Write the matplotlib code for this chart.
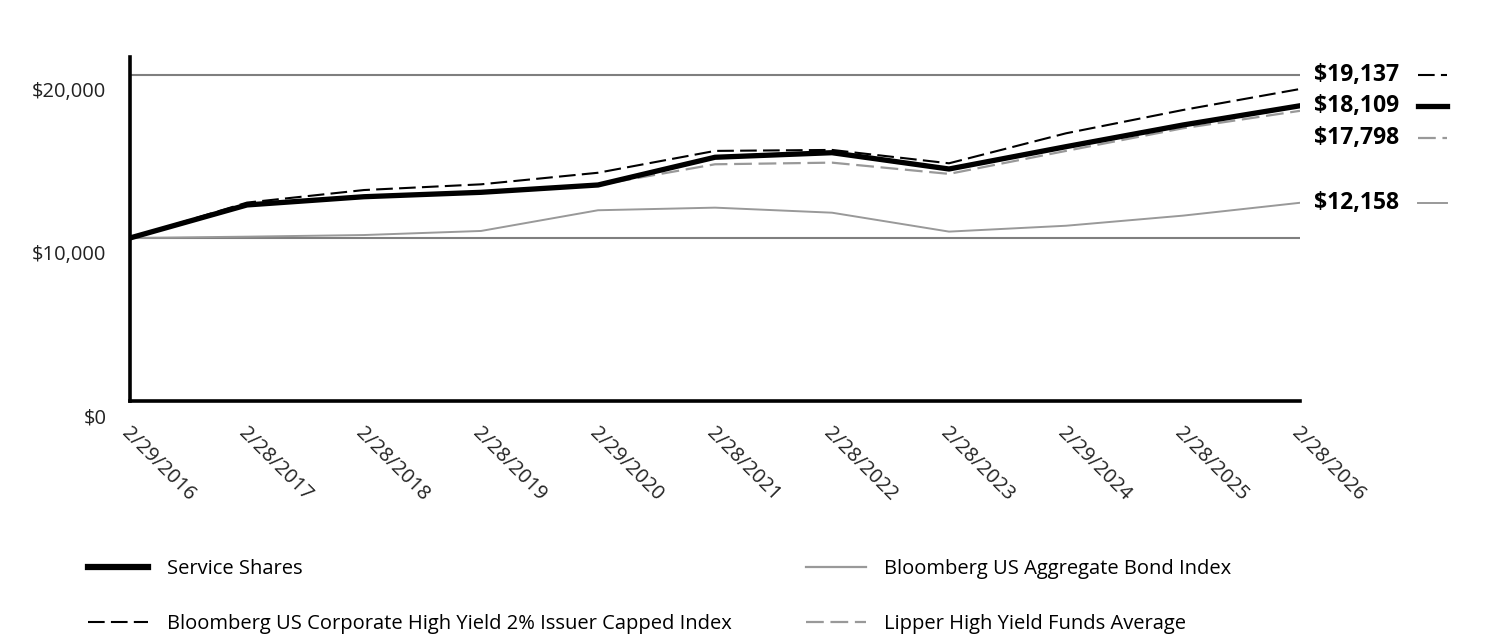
import matplotlib

matplotlib.use("Agg")
import matplotlib.pyplot as plt
from matplotlib.lines import Line2D
from matplotlib.transforms import ScaledTranslation

plt.rcParams["font.family"] = ["Open Sans", "DejaVu Sans"]

dates = [
    "2/29/2016", "2/28/2017", "2/28/2018", "2/28/2019", "2/29/2020", "2/28/2021",
    "2/28/2022", "2/28/2023", "2/29/2024", "2/28/2025", "2/28/2026",
]
service_shares = [10000, 12025, 12530, 12800, 13250, 14950, 15230, 14230, 15600, 16930, 18109]
hy_index = [10000, 12170, 12940, 13290, 14000, 15340, 15400, 14580, 16420, 17850, 19137]
lipper_avg = [10000, 12030, 12530, 12800, 13250, 14520, 14620, 13930, 15340, 16730, 17798]
agg_bond = [10000, 10080, 10180, 10430, 11700, 11860, 11550, 10390, 10750, 11370, 12158]

y_ticks = [0, 10000, 20000]
y_tick_labels = ["$0", "$10,000", "$20,000"]

BLACK = "#000000"
GREY = "#999999"
GRID = "#7f7f7f"
FS = 14.5

fig = plt.figure(figsize=(15.12, 6.36), dpi=100)
ax = fig.add_axes([130 / 1512, 1 - 401 / 636, 1170 / 1512, 344 / 636])

x = list(range(len(dates)))
ax.plot(x, agg_bond, color=GREY, lw=1.4, zorder=3)
ax.plot(x, lipper_avg, color=GREY, lw=1.6, dashes=(8, 3), zorder=4)
ax.plot(x, hy_index, color=BLACK, lw=1.5, dashes=(8, 3), zorder=5)
ax.plot(x, service_shares, color=BLACK, lw=3.8, zorder=6)

for level in (10000, 20000):
    ax.axhline(level, color=GRID, lw=1.5, zorder=1)

ax.set_xlim(0, len(dates) - 1)
ax.set_ylim(0, 21100)
for side in ("top", "right"):
    ax.spines[side].set_visible(False)
for side in ("left", "bottom"):
    ax.spines[side].set_linewidth(2.6)
    ax.spines[side].set_color(BLACK)

ax.set_yticks(y_ticks)
ax.set_yticklabels(y_tick_labels, fontsize=FS, color="#222222")
ax.tick_params(axis="y", length=0, pad=17)
shift = ScaledTranslation(0, -15 / 100, fig.dpi_scale_trans)
for label in ax.get_yticklabels():
    label.set_transform(label.get_transform() + shift)

ax.set_xticks(x)
ax.set_xticklabels(dates, fontsize=FS, color="#222222", rotation=-45,
                   ha="left", va="top", rotation_mode="anchor")
ax.tick_params(axis="x", length=0, pad=16)
xshift = ScaledTranslation(2 / 100, 0, fig.dpi_scale_trans)
for label in ax.get_xticklabels():
    label.set_transform(label.get_transform() + xshift)

# end-value labels on the right
end_values = [hy_index[-1], service_shares[-1], lipper_avg[-1], agg_bond[-1]]
label_y = [20000, 18109, 16130, 12158]
end_styles = [
    dict(color=BLACK, lw=1.5, dashes=(8, 3)),
    dict(color=BLACK, lw=3.8),
    dict(color=GREY, lw=1.6, dashes=(8, 3)),
    dict(color=GREY, lw=1.4),
]
for value, ly, style in zip(end_values, label_y, end_styles):
    ax.text(10.12, ly, f"${value:,.0f}", fontsize=16.5, fontweight="bold",
            ha="left", va="center", clip_on=False)
    ax.add_line(Line2D([11.01, 11.26], [ly, ly], clip_on=False, **style))

handles = [
    Line2D([], [], color=BLACK, lw=4.5),
    Line2D([], [], color=BLACK, lw=1.5, dashes=(8, 3)),
    Line2D([], [], color=GREY, lw=1.6),
    Line2D([], [], color=GREY, lw=1.6, dashes=(8, 3)),
]
names = [
    "Service Shares",
    "Bloomberg US Corporate High Yield 2% Issuer Capped Index",
    "Bloomberg US Aggregate Bond Index",
    "Lipper High Yield Funds Average",
]
fig.legend(handles, names, ncol=2, loc="upper left",
           bbox_to_anchor=(88 / 1512, 1 - 559 / 636), frameon=False,
           fontsize=FS, handlelength=3.0, handletextpad=0.9,
           columnspacing=3.7, labelspacing=1.74, borderaxespad=0,
           borderpad=0)

fig.savefig("out.png", dpi=100)
